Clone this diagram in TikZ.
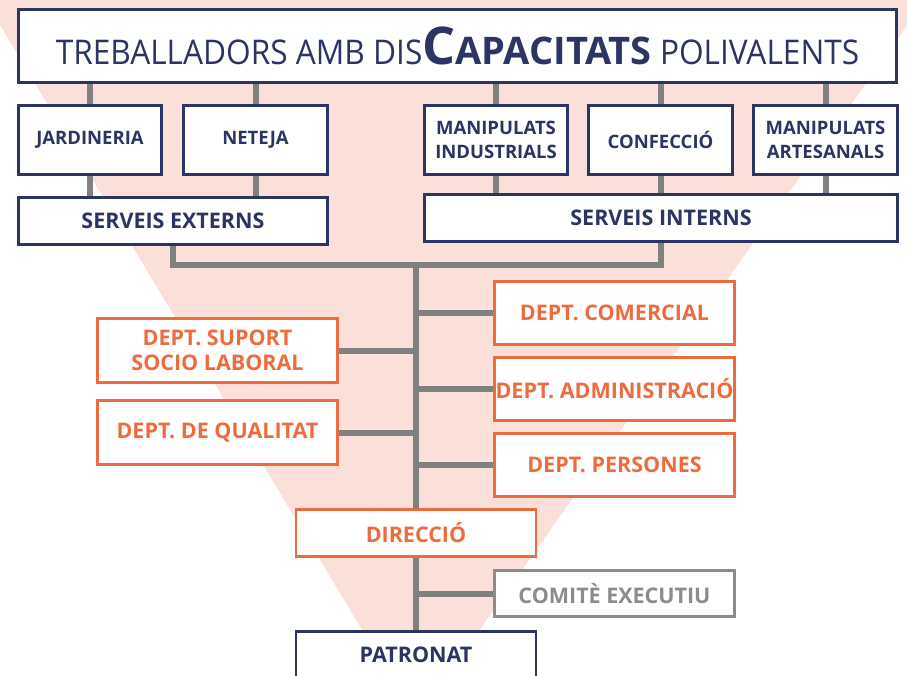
\documentclass[tikz,border=0pt]{standalone}
\usepackage{fontspec}
\setmainfont{Open Sans}
\newfontfamily\titlefont[FakeStretch=0.93]{Open Sans}
\definecolor{navy1}{RGB}{43, 52, 99}
\definecolor{orange1}{RGB}{238, 107, 61}
\definecolor{pink1}{RGB}{251, 224, 218}
\definecolor{line1}{RGB}{128, 128, 128}
\definecolor{gray1}{RGB}{140, 140, 140}
\usetikzlibrary{backgrounds}

\tikzset{
  navybox/.style={draw=navy1, fill=white, line width=2.6pt, text=navy1, align=center, inner sep=0pt,
    font=\bfseries\fontsize{21.5}{25}\selectfont},
  shopbox/.style={navybox, font=\bfseries\fontsize{18.5}{24}\selectfont},
  deptbox/.style={navybox, draw=orange1, text=orange1, minimum width=240pt},
  comitebox/.style={navybox, draw=gray1, text=gray1, minimum width=240pt},
  link/.style={draw=line1, line width=6pt},
}

\begin{document}
\begin{tikzpicture}[x=1pt, y=-1pt]
  \useasboundingbox (0,0) rectangle (907,675);

  % Title
  \node[navybox, font=\titlefont\fontsize{34}{36}\selectfont, minimum width=878pt, minimum height=73pt] (title) at (457.5, 46)
    {TREBALLADORS AMB DIS{\rmfamily\bfseries\fontsize{52}{52}\selectfont C\fontsize{38}{38}\selectfont APACITATS} POLIVALENTS};

  % Row 2: the workshops
  \node[shopbox, minimum width=143pt, minimum height=69pt] (jard) at (90, 140) {JARDINERIA};
  \node[shopbox, minimum width=144pt, minimum height=69pt] (neteja) at (255.5, 140) {NETEJA};
  \node[shopbox, minimum width=143pt, minimum height=69pt] (manind) at (496, 140) {MANIPULATS\\INDUSTRIALS};
  \node[shopbox, minimum width=144pt, minimum height=69pt] (confec) at (660.5, 140) {CONFECCIÓ};
  \node[shopbox, minimum width=144pt, minimum height=69pt] (manart) at (825.5, 140) {MANIPULATS\\ARTESANALS};

  % Row 3: the services
  \node[navybox, minimum width=309pt, minimum height=47pt] (externs) at (173, 221) {SERVEIS EXTERNS};
  \node[navybox, minimum width=473pt, minimum height=47pt] (interns) at (661, 218) {SERVEIS INTERNS};

  % Departments
  \node[deptbox, minimum height=63pt] (comercial) at (614.5, 313) {DEPT. COMERCIAL};
  \node[deptbox, minimum height=64pt] (suport) at (217.5, 350.5) {DEPT. SUPORT\\SOCIO LABORAL};
  \node[deptbox, minimum height=63pt] (admin) at (614.5, 389) {DEPT. ADMINISTRACIÓ};
  \node[deptbox, minimum height=64pt] (qualitat) at (217.5, 432.5) {DEPT. DE QUALITAT};
  \node[deptbox, minimum height=63pt] (persones) at (614.5, 465) {DEPT. PERSONES};

  % Direction
  \node[deptbox, minimum height=47pt] (direccio) at (416, 533) {DIRECCIÓ};
  \node[comitebox, minimum height=46pt] (comite) at (614.5, 593.5) {COMITÈ EXECUTIU};
  \node[navybox, minimum width=240pt, minimum height=47pt] (patronat) at (416, 655) {PATRONAT};

  \coordinate (bus) at (416, 265);

  \begin{scope}[on background layer]
    \fill[pink1] (-15, 0) -- (925, 0) -- (416, 720) -- cycle;
    % title to workshops
    \draw[link] (jard.north) -- (jard.north |- title.south);
    \draw[link] (neteja.north) -- (neteja.north |- title.south);
    \draw[link] (manind.north) -- (manind.north |- title.south);
    \draw[link] (confec.north) -- (confec.north |- title.south);
    \draw[link] (manart.north) -- (manart.north |- title.south);
    % workshops to services
    \draw[link] (jard.south) -- (jard.south |- externs.north);
    \draw[link] (neteja.south) -- (neteja.south |- externs.north);
    \draw[link] (manind.south) -- (manind.south |- interns.north);
    \draw[link] (confec.south) -- (confec.south |- interns.north);
    \draw[link] (manart.south) -- (manart.south |- interns.north);
    % services to trunk
    \draw[link] (externs.south) |- (bus) -| (interns.south);
    \draw[link] (bus) -- (direccio.north);
    \draw[link] (direccio.south) -- (patronat.north);
    % branches
    \draw[link] (comercial.west) -- (comercial.west -| bus);
    \draw[link] (suport.east) -- (suport.east -| bus);
    \draw[link] (admin.west) -- (admin.west -| bus);
    \draw[link] (qualitat.east) -- (qualitat.east -| bus);
    \draw[link] (persones.west) -- (persones.west -| bus);
    \draw[link] (comite.west) -- (comite.west -| bus);
  \end{scope}
\end{tikzpicture}
\end{document}
